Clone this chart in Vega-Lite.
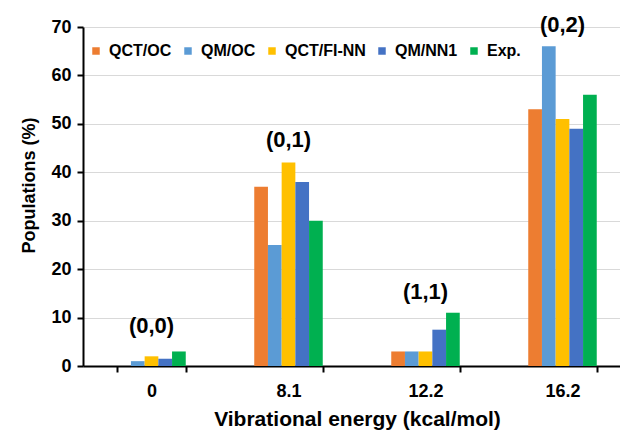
{
  "$schema": "https://vega.github.io/schema/vega-lite/v6.json",
  "width": 537,
  "height": 339,
  "autosize": {"type": "none"},
  "padding": {"left": 83, "top": 27, "right": 0, "bottom": 68},
  "background": "white",
  "config": {
    "font": "Liberation Sans",
    "view": {"stroke": null},
    "axis": {
      "labelFont": "Liberation Sans",
      "labelFontWeight": "bold",
      "labelColor": "#000000",
      "titleFont": "Liberation Sans",
      "titleFontWeight": "bold",
      "titleColor": "#000000",
      "domainColor": "#000000",
      "domainWidth": 2,
      "tickColor": "#000000",
      "tickWidth": 2,
      "tickSize": 6
    }
  },
  "layer": [
    {
      "data": {
        "values": [
          {"energy": "0", "method": "QCT/OC", "population": 0},
          {"energy": "0", "method": "QM/OC", "population": 1},
          {"energy": "0", "method": "QCT/FI-NN", "population": 2},
          {"energy": "0", "method": "QM/NN1", "population": 1.5},
          {"energy": "0", "method": "Exp.", "population": 3},
          {"energy": "8.1", "method": "QCT/OC", "population": 37},
          {"energy": "8.1", "method": "QM/OC", "population": 25},
          {"energy": "8.1", "method": "QCT/FI-NN", "population": 42},
          {"energy": "8.1", "method": "QM/NN1", "population": 38},
          {"energy": "8.1", "method": "Exp.", "population": 30},
          {"energy": "12.2", "method": "QCT/OC", "population": 3},
          {"energy": "12.2", "method": "QM/OC", "population": 3},
          {"energy": "12.2", "method": "QCT/FI-NN", "population": 3},
          {"energy": "12.2", "method": "QM/NN1", "population": 7.5},
          {"energy": "12.2", "method": "Exp.", "population": 11},
          {"energy": "16.2", "method": "QCT/OC", "population": 53},
          {"energy": "16.2", "method": "QM/OC", "population": 66},
          {"energy": "16.2", "method": "QCT/FI-NN", "population": 51},
          {"energy": "16.2", "method": "QM/NN1", "population": 49},
          {"energy": "16.2", "method": "Exp.", "population": 56}
        ]
      },
      "mark": {"type": "bar"},
      "encoding": {
        "x": {
          "field": "energy",
          "type": "nominal",
          "sort": ["0", "8.1", "12.2", "16.2"],
          "scale": {"range": [0, 548], "paddingInner": 0.5, "paddingOuter": 0.25},
          "axis": {
            "title": "Vibrational energy (kcal/mol)",
            "titleFontSize": 21,
            "titlePadding": 8,
            "labelFontSize": 18,
            "labelAngle": 0,
            "labelPadding": 10,
            "tickBand": "extent"
          }
        },
        "xOffset": {
          "field": "method",
          "type": "nominal",
          "sort": ["QCT/OC", "QM/OC", "QCT/FI-NN", "QM/NN1", "Exp."],
          "scale": {"paddingInner": 0, "paddingOuter": 0}
        },
        "y": {
          "field": "population",
          "type": "quantitative",
          "scale": {"domain": [0, 70], "nice": false},
          "axis": {
            "title": "Populations (%)",
            "titleFontSize": 18,
            "titleY": 158,
            "titlePadding": 12,
            "labelFontSize": 18,
            "labelPadding": 6,
            "values": [0, 10, 20, 30, 40, 50, 60, 70],
            "gridColor": "#d9d9d9",
            "gridWidth": 1
          }
        },
        "color": {
          "field": "method",
          "type": "nominal",
          "sort": ["QCT/OC", "QM/OC", "QCT/FI-NN", "QM/NN1", "Exp."],
          "scale": {
            "domain": ["QCT/OC", "QM/OC", "QCT/FI-NN", "QM/NN1", "Exp."],
            "range": ["#ED7D31", "#5B9BD5", "#FFC000", "#4472C4", "#00B050"]
          },
          "legend": {
            "title": null,
            "orient": "none",
            "direction": "horizontal",
            "legendX": 5,
            "legendY": 16,
            "padding": 0,
            "symbolType": "square",
            "symbolSize": 56,
            "symbolStrokeWidth": 0,
            "labelFont": "Liberation Sans",
            "labelFontWeight": "bold",
            "labelFontSize": 16,
            "labelColor": "#000000",
            "labelOffset": 5,
            "columnPadding": 8
          }
        }
      }
    },
    {
      "data": {
        "values": [
          {"energy": "0", "state": "(0,0)", "position": 6.8},
          {"energy": "8.1", "state": "(0,1)", "position": 45.3},
          {"energy": "12.2", "state": "(1,1)", "position": 13.8},
          {"energy": "16.2", "state": "(0,2)", "position": 68.9}
        ]
      },
      "mark": {
        "type": "text",
        "font": "Liberation Sans",
        "fontWeight": "bold",
        "fontSize": 22,
        "baseline": "alphabetic",
        "align": "center",
        "color": "#000000"
      },
      "encoding": {
        "x": {"field": "energy", "type": "nominal", "sort": ["0", "8.1", "12.2", "16.2"]},
        "y": {"field": "position", "type": "quantitative"},
        "text": {"field": "state", "type": "nominal"}
      }
    }
  ]
}
